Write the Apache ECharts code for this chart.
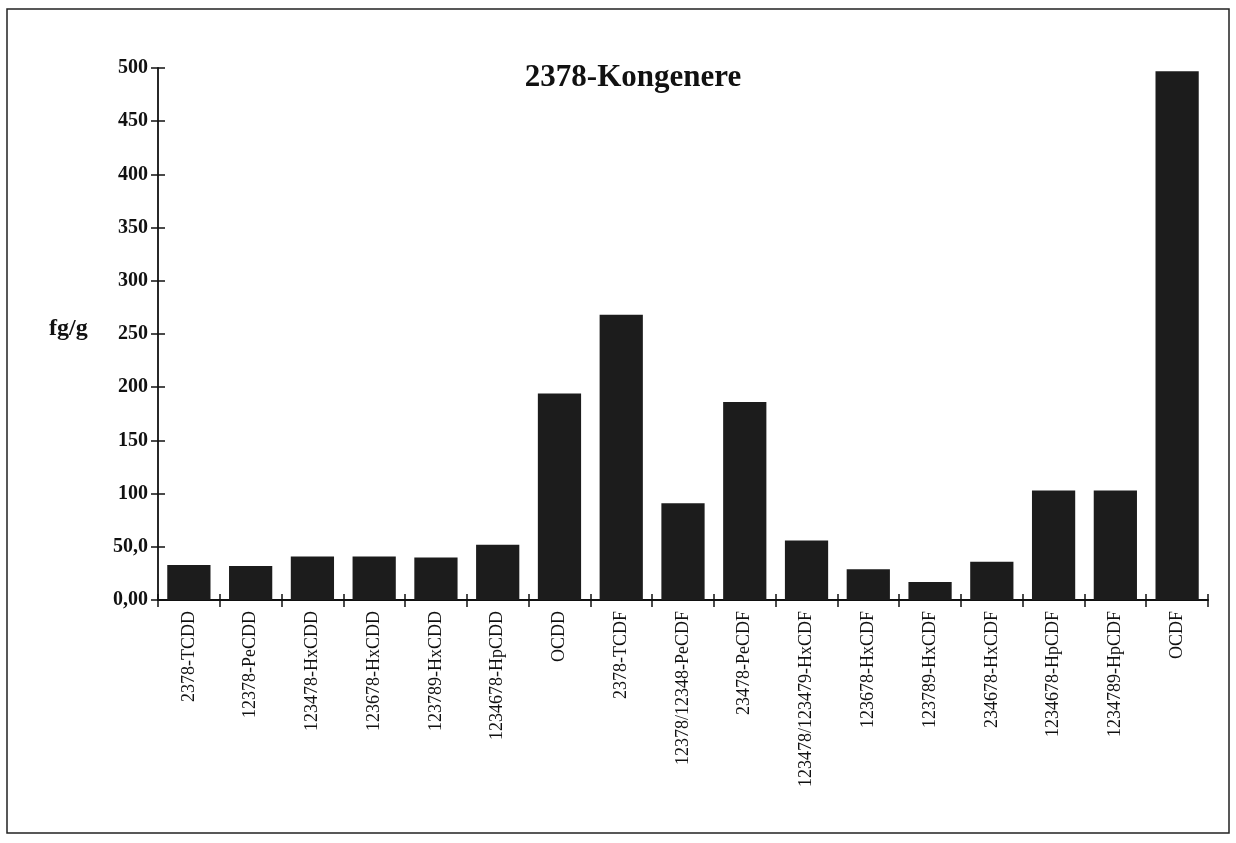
<!DOCTYPE html>
<html>
<head>
<meta charset="utf-8">
<title>2378-Kongenere</title>
<script src="https://cdn.jsdelivr.net/npm/echarts@6/dist/echarts.min.js"></script>
<style>
  html, body { margin: 0; padding: 0; background: #fff; }
  #chart { width: 1236px; height: 843px; }
</style>
</head>
<body>
<div id="chart"></div>
<script>
// congeners, fg/g
var categories = [
  '2378-TCDD', '12378-PeCDD', '123478-HxCDD', '123678-HxCDD', '123789-HxCDD',
  '1234678-HpCDD', 'OCDD', '2378-TCDF', '12378/12348-PeCDF', '23478-PeCDF',
  '123478/123479-HxCDF', '123678-HxCDF', '123789-HxCDF', '234678-HxCDF',
  '1234678-HpCDF', '1234789-HpCDF', 'OCDF'
];
var values = [33, 32, 41, 41, 40, 52, 194, 268, 91, 186, 56, 29, 17, 36, 103, 103, 497];
var yTickLabels = { 0: '0,00', 50: '50,0' };

var serif = '"Liberation Serif", "DejaVu Serif", serif';
var ink = '#111';
var W = 1236, H = 843;
var gridL = 158, gridR = 28, gridT = 68, gridB = 243;

var chart = echarts.init(document.getElementById('chart'));

chart.setOption({
  animation: false,
  backgroundColor: '#fff',
  title: {
    text: '2378-Kongenere',
    left: 628,
    top: 57,
    textAlign: 'center',
    textStyle: { fontFamily: serif, fontSize: 31, fontWeight: 'bold', color: ink }
  },
  graphic: [
    {
      type: 'rect',
      shape: { x: 7, y: 9, width: 1222, height: 824 },
      style: { fill: 'none', stroke: '#222', lineWidth: 1.5 }
    },
    {
      type: 'text',
      left: 49,
      top: 317,
      style: { text: 'fg/g', font: 'bold 24px ' + serif, fill: ink }
    }
  ],
  grid: { left: gridL, right: gridR, top: gridT, bottom: gridB },
  xAxis: [{
    type: 'category',
    data: categories,
    axisLine: { lineStyle: { color: ink, width: 1.8 } },
    axisTick: { show: true, interval: 0, alignWithLabel: false, length: 7, lineStyle: { color: ink, width: 1.5 } },
    axisLabel: {
      rotate: 90,
      interval: 0,
      margin: 11,
      fontFamily: serif,
      fontSize: 18,
      color: ink
    }
  }, {
    // top axis pulled down onto the bottom line: upper half of the crossing ticks
    type: 'category',
    position: 'top',
    offset: -(H - gridT - gridB),
    data: categories,
    axisLine: { show: false },
    axisTick: { show: true, interval: 0, alignWithLabel: false, length: 6, lineStyle: { color: ink, width: 1.5 } },
    axisLabel: { show: false }
  }],
  yAxis: [{
    type: 'value',
    min: 0,
    max: 500,
    interval: 50,
    splitLine: { show: false },
    axisLine: { show: true, lineStyle: { color: ink, width: 1.8 } },
    axisTick: { show: true, length: 7, lineStyle: { color: ink, width: 1.5 } },
    axisLabel: {
      margin: 10,
      fontFamily: serif,
      fontSize: 20,
      fontWeight: 'bold',
      color: ink,
      formatter: function (v) { return yTickLabels[v] || String(v); }
    }
  }, {
    // right axis pulled onto the left line: right half of the crossing ticks
    type: 'value',
    position: 'right',
    offset: -(W - gridL - gridR),
    min: 0,
    max: 500,
    interval: 50,
    splitLine: { show: false },
    axisLine: { show: false },
    axisTick: { show: true, length: 7, lineStyle: { color: ink, width: 1.5 } },
    axisLabel: { show: false }
  }],
  series: [{
    type: 'bar',
    xAxisIndex: 0,
    yAxisIndex: 0,
    data: values,
    barCategoryGap: '30%',
    itemStyle: { color: '#1c1c1c' }
  }]
});
</script>
</body>
</html>
